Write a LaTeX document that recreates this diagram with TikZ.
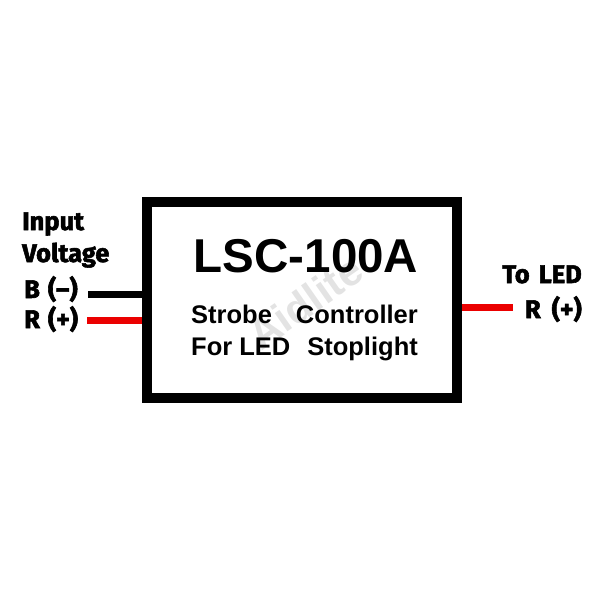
\documentclass[tikz,border=0pt]{standalone}
\usepackage{fontspec}
\setmainfont{Liberation Sans}
\newfontfamily\labfont{Fira Sans}[BoldFeatures={FakeBold=2.2}]
\definecolor{wirered}{RGB}{235,0,0}
\begin{document}
\begin{tikzpicture}[x=1pt,y=-1pt,
  lab/.style={font=\labfont\bfseries\fontsize{25.5}{26}\selectfont, inner sep=0pt},
  boxtext/.style={font=\bfseries\fontsize{25.5}{26}\selectfont, inner sep=0pt},
  title/.style={font=\bfseries\fontsize{47.5}{48}\selectfont, inner sep=0pt},
  mark text/.style={font=\bfseries\fontsize{42}{42}\selectfont, text=black!11, inner sep=0pt},
  wire/.style={line width=7pt},
  redwire/.style={line width=7pt, draw=wirered}]
\useasboundingbox (0,0) rectangle (600,600);
% watermark
\node[mark text, rotate=35] (wm) at (305,302) {Aidlite};
% box
\node[draw, line width=10pt, minimum width=310pt, minimum height=196pt, inner sep=0pt] (box) at (302,300) {};
\node[title, anchor=base] (t) at (306,272) {LSC-100A};
\node[boxtext, anchor=base west] (s1) at (191,323) {Strobe};
\node[boxtext, anchor=base east] (s2) at (418,323) {Controller};
\node[boxtext, anchor=base west] (s3) at (191,355) {For LED};
\node[boxtext, anchor=base east] (s4) at (418,355) {Stoplight};
% left labels
\node[lab, anchor=base west] (in1) at (22,230) {Input};
\node[lab, anchor=base west] (in2) at (22,262) {Voltage};
\node[lab, anchor=base west] (lb) at (24,298) {B\hspace{8pt}(–)};
\node[lab, anchor=base west] (lr) at (24,328) {R\hspace{8pt}(+)};
% right labels
\node[lab, anchor=base east] (out1) at (582,283) {To\hspace{9pt}LED};
\node[lab, anchor=base east] (outr) at (582,318) {R\hspace{11pt}(+)};
% wires
\coordinate (bw) at (88,294);
\coordinate (rw) at (87,320);
\coordinate (ro) at (513,307);
\draw[wire] (bw) -- (bw -| box.west);
\draw[redwire] (rw) -- (rw -| box.west);
\draw[redwire] (box.east |- ro) -- (ro);
\end{tikzpicture}
\end{document}
